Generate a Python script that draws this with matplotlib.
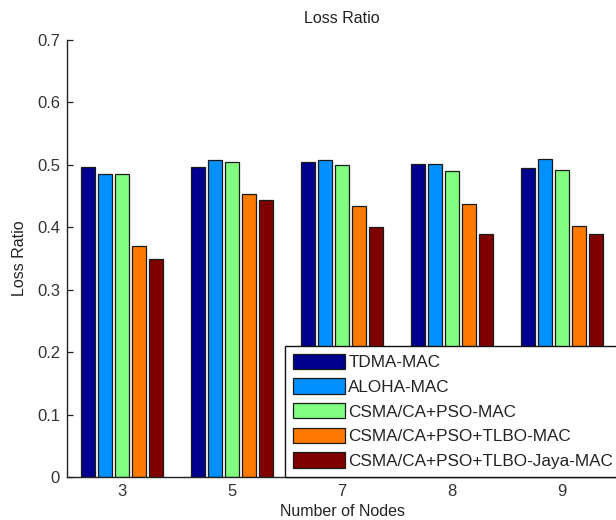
import matplotlib
matplotlib.use("Agg")
import matplotlib.pyplot as plt
import numpy as np

# Loss ratio per protocol for each network size
node_labels = ["3", "5", "7", "8", "9"]
series_names = [
    "TDMA-MAC",
    "ALOHA-MAC",
    "CSMA/CA+PSO-MAC",
    "CSMA/CA+PSO+TLBO-MAC",
    "CSMA/CA+PSO+TLBO-Jaya-MAC",
]
tdma = [0.496, 0.497, 0.505, 0.501, 0.495]
aloha = [0.486, 0.507, 0.507, 0.501, 0.509]
pso = [0.486, 0.505, 0.499, 0.490, 0.492]
tlbo = [0.370, 0.454, 0.434, 0.437, 0.402]
jaya = [0.349, 0.444, 0.400, 0.390, 0.390]
series_values = [tdma, aloha, pso, tlbo, jaya]

colors = ["#00008F", "#0090FF", "#80FF80", "#FF7A00", "#800000"]

W, H = 616, 520
fig = plt.figure(figsize=(W / 100, H / 100), dpi=100)
ax = fig.add_axes([67 / W, 1 - 477 / H, 550 / W, (477 - 40) / H])

x = np.arange(1, len(node_labels) + 1)
pitch = 0.1545
bar_w = 0.135
for j, (name, vals, c) in enumerate(zip(series_names, series_values, colors)):
    ax.bar(x + (j - 2) * pitch, vals, width=bar_w, color=c,
           edgecolor="#1a1a1a", linewidth=0.9, label=name, zorder=2)

ax.set_xlim(0.5, 5.5)
ax.set_ylim(0, 0.7)
ax.set_xticks(x)
ax.set_xticklabels(node_labels)
ax.set_yticks(np.round(np.arange(0, 0.71, 0.1), 1))
ax.set_yticklabels(["0", "0.1", "0.2", "0.3", "0.4", "0.5", "0.6", "0.7"])

for s in ["top", "right"]:
    ax.spines[s].set_visible(False)
for s in ["left", "bottom"]:
    ax.spines[s].set_linewidth(1.0)
    ax.spines[s].set_color("#222222")

sans = ["Liberation Sans", "DejaVu Sans"]
ax.tick_params(direction="in", length=4, width=0.9, colors="#222222",
               labelsize=12, pad=5)
for lbl in ax.get_xticklabels() + ax.get_yticklabels():
    lbl.set_fontfamily(sans)
    lbl.set_color("#333333")

ax.set_title("Loss Ratio", fontsize=11.5, family=sans, color="#222222", pad=12)
ax.set_xlabel("Number of Nodes", fontsize=11.5, family=sans, color="#222222",
              labelpad=4)
ax.set_ylabel("Loss Ratio", fontsize=11.5, family=sans, color="#222222",
              labelpad=7)

leg = ax.legend(loc="upper left", bbox_to_anchor=(285 / W, 1 - 346 / H),
                bbox_transform=fig.transFigure, fancybox=False, shadow=False,
                framealpha=1, edgecolor="#111111",
                prop={"family": sans, "size": 12.3},
                handlelength=3.05, handleheight=1.0, handletextpad=0.2,
                labelspacing=0.48, borderpad=0.45, borderaxespad=0)
leg.get_frame().set_linewidth(1.0)
for t in leg.get_texts():
    t.set_color("#222222")

fig.savefig("out.png", dpi=100, facecolor="white")
